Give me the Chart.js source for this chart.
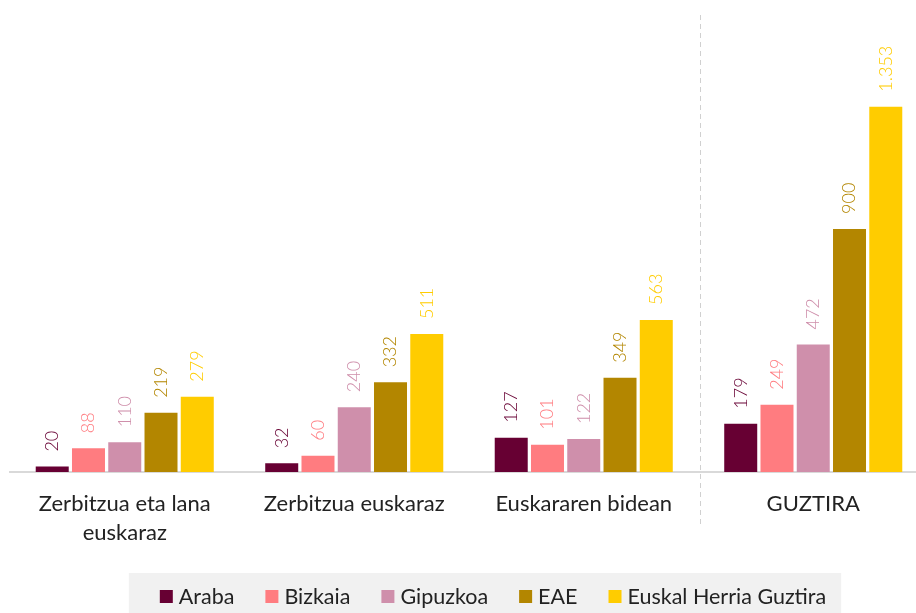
<!DOCTYPE html>
<html>
<head>
<meta charset="utf-8">
<script src="https://cdn.jsdelivr.net/npm/chart.js@4"></script>
<style>
  html, body { margin: 0; padding: 0; background: #fff; overflow: hidden; }
  #wrap { width: 968px; height: 613px; }
</style>
</head>
<body>
<div id="wrap"><canvas id="chart_view"></canvas></div>
<script>
const categories = [
  ['Zerbitzua eta lana', 'euskaraz'],
  'Zerbitzua euskaraz',
  'Euskararen bidean',
  'GUZTIRA'
];
const seriesNames = ['Araba', 'Bizkaia', 'Gipuzkoa', 'EAE', 'Euskal Herria Guztira'];
const araba = [20, 32, 127, 179];
const bizkaia = [88, 60, 101, 249];
const gipuzkoa = [110, 240, 122, 472];
const eae = [219, 332, 349, 900];
const ehGuztira = [279, 511, 563, 1353];
const colors = ['rgb(103,0,51)', 'rgb(255,124,128)', 'rgb(207,143,171)', 'rgb(179,134,0)', 'rgb(255,204,0)'];

const seriesValues = [araba, bizkaia, gipuzkoa, eae, ehGuztira];
const FONT = 'Lato, "Open Sans", sans-serif';

function fmt(v) {
  return String(v).replace(/\B(?=(\d{3})+(?!\d))/g, '.');
}

// rotated value labels above every bar
const valueLabels = {
  id: 'valueLabels',
  afterDatasetsDraw(chart) {
    const ctx = chart.ctx;
    chart.data.datasets.forEach((ds, i) => {
      chart.getDatasetMeta(i).data.forEach((bar, j) => {
        ctx.save();
        ctx.translate(bar.x, bar.y - 15);
        ctx.rotate(-Math.PI / 2);
        ctx.font = '300 18px ' + FONT;
        ctx.fillStyle = ds.backgroundColor;
        ctx.textAlign = 'left';
        ctx.textBaseline = 'middle';
        ctx.fillText(fmt(ds.data[j]), 0, 0);
        ctx.restore();
      });
    });
  }
};

// dashed divider before GUZTIRA
const divider = {
  id: 'divider',
  beforeDraw(chart) {
    const ctx = chart.ctx;
    const x = chart.scales.x;
    const xm = (x.getPixelForValue(2) + x.getPixelForValue(3)) / 2 + 2;
    ctx.save();
    ctx.strokeStyle = '#d0d0d0';
    ctx.lineWidth = 1;
    ctx.setLineDash([5, 4]);
    ctx.beginPath();
    ctx.moveTo(xm, 15);
    ctx.lineTo(xm, 525);
    ctx.stroke();
    ctx.restore();
  }
};

// legend in a grey strip at the bottom
const boxLegend = {
  id: 'boxLegend',
  afterDraw(chart) {
    const ctx = chart.ctx;
    ctx.save();
    ctx.font = '21.5px ' + FONT;
    const box = 13, gapIn = 6, gapOut = 31;
    const widths = chart.data.datasets.map(ds => box + gapIn + ctx.measureText(ds.label).width);
    const total = widths.reduce((a, b) => a + b, 0) + gapOut * (widths.length - 1);
    let x = 493 - total / 2;
    ctx.fillStyle = '#f1f1f1';
    ctx.fillRect(x - 31, 573, total + 46, 40);
    ctx.textBaseline = 'alphabetic';
    chart.data.datasets.forEach((ds, i) => {
      ctx.fillStyle = ds.backgroundColor;
      ctx.fillRect(x, 590, box, box);
      ctx.fillStyle = '#222';
      ctx.fillText(ds.label, x + box + gapIn, 604);
      x += widths[i] + gapOut;
    });
    ctx.restore();
  }
};

const config = {
  type: 'bar',
  data: {
    labels: categories,
    datasets: seriesNames.map((name, i) => ({
      label: name,
      data: seriesValues[i],
      backgroundColor: colors[i],
      borderWidth: 0,
      barPercentage: 0.91,
      categoryPercentage: 0.79
    }))
  },
  options: {
    responsive: true,
    maintainAspectRatio: false,
    animation: false,
    layout: { padding: { top: 13, left: 10, right: 40, bottom: 0 } },
    scales: {
      x: {
        grid: { display: false, drawTicks: false },
        border: { display: true, color: '#d9d9d9', width: 2 },
        ticks: { color: '#222', font: { family: FONT, size: 22, lineHeight: 1.3 }, padding: 18, maxRotation: 0 },
        afterFit(scale) { scale.height = 141; }
      },
      y: {
        display: false,
        min: 0,
        max: 1700
      }
    },
    plugins: {
      tooltip: { enabled: false },
      legend: { display: false }
    }
  },
  plugins: [valueLabels, divider, boxLegend]
};

var myChart = new Chart(document.getElementById('chart_view'), config);
</script>
</body>
</html>
